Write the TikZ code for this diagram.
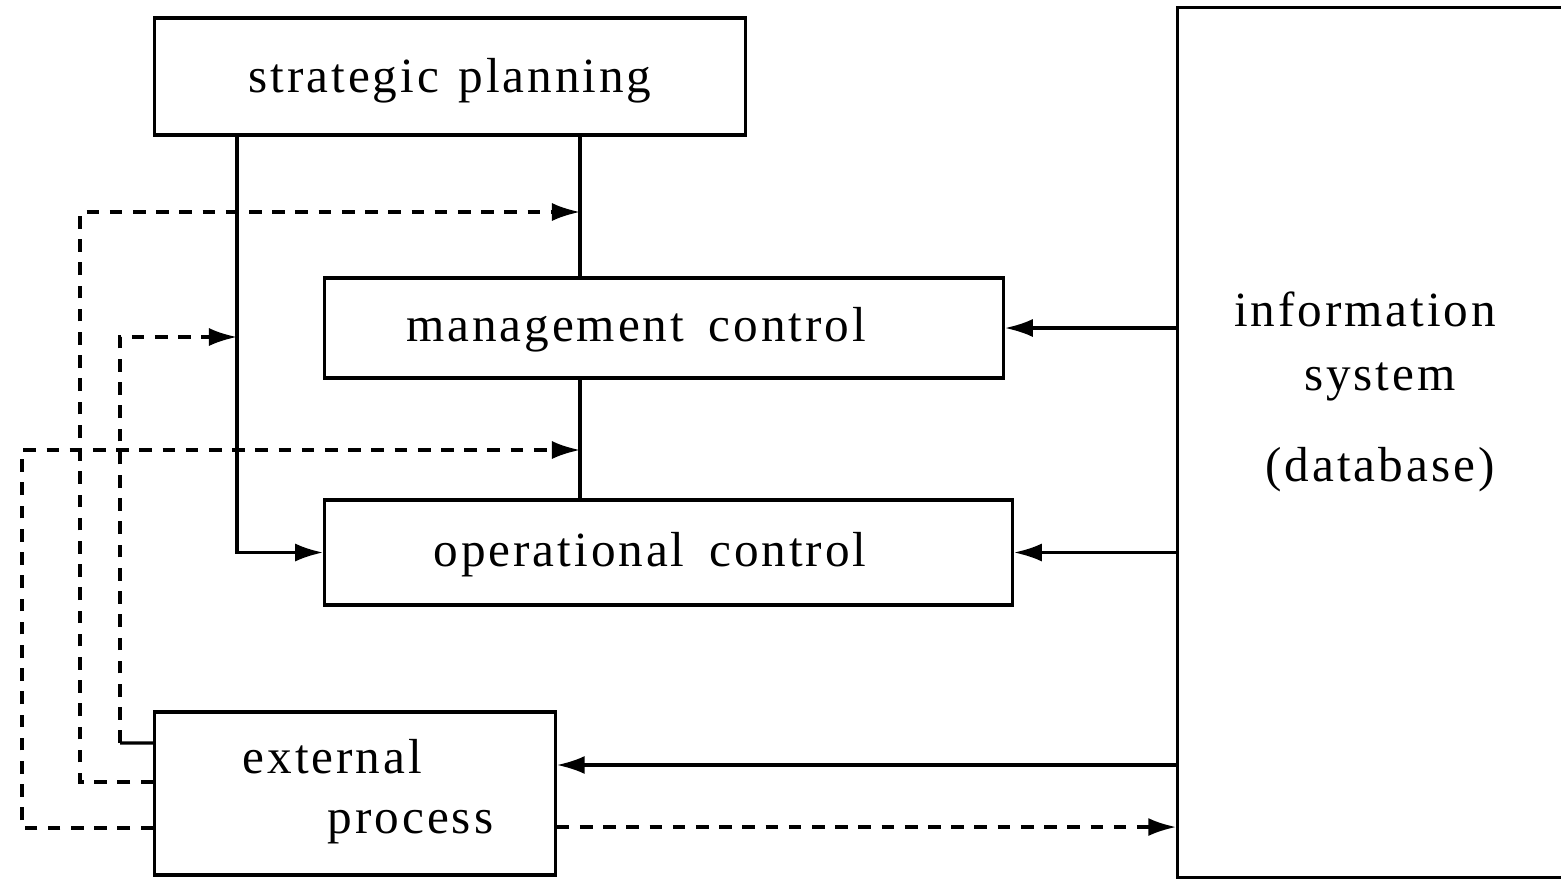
\documentclass[tikz,border=0pt]{standalone}
\usepackage{fontspec}
\setmainfont[LetterSpace=6]{Liberation Serif}
\usetikzlibrary{arrows.meta,positioning,calc}
\tikzset{%
    >={Latex[width=1.8mm,length=2.8mm]},
    % Specifications for style of nodes:
    box/.style = {
        rectangle, draw=black, line width=0.9pt,
        inner sep=0pt, align=center, fill=white
    },
    boxtext/.style = {font=\fontsize{14}{17}\selectfont, align=center},
    fb/.style = {dash pattern=on 3.6pt off 3pt},
}
\begin{document}
\begin{tikzpicture}[x=0.01cm, y=-0.01cm, line width=0.9pt]
    \useasboundingbox (0,0) rectangle (1561,881);
    \clip (0,0) rectangle (1561,881);
    \node[box, minimum width=5.9cm, minimum height=1.17cm] (sp) at (450,76.5) {};
    \node[box, minimum width=6.78cm, minimum height=1.0cm] (mc) at (664,328) {};
    \node[box, minimum width=6.87cm, minimum height=1.05cm] (oc) at (668.5,552.5) {};
    \node[box, minimum width=4.0cm, minimum height=1.63cm] (ext) at (355,793.5) {};
    \node[box, minimum width=5.22cm, minimum height=8.69cm] (info) at (1439,442.5) {};
    \node[boxtext] (sptext) at (450,81) {strategic\hspace{.4em}planning};
    \node[boxtext] (mctext) at (636,330) {management\hspace{.5em}control};
    \node[boxtext] (octext) at (650,555) {operational\hspace{.5em}control};
    \node[boxtext, align=left] (exttext) at (368,792) {external\\[0pt]\hspace*{0.85cm}process};
    \node[boxtext] (infotext) at (1365,392) {information\\[1pt]\hspace*{.3cm}system\\[9pt]\hspace*{.3cm}(database)};
    % junction points
    \coordinate (lx) at (237,0);
    \coordinate (cx) at (580,0);
    \coordinate (f1) at (80,212);
    \coordinate (f2) at (120,337);
    \coordinate (f3) at (22,450);
    \coordinate (b1) at (120,743);
    \coordinate (e1) at ([yshift=.115cm]ext.west);
    \coordinate (e4) at ([yshift=-.345cm]ext.west);
    \coordinate (e2) at ([yshift=.285cm]ext.east);
    \coordinate (e3) at ([yshift=-.335cm]ext.east);
    % planning lines
    \draw[->] (sp.south -| lx) |- (oc.west);
    \draw (sp.south -| cx) -- (mc.north -| cx);
    \draw (mc.south -| cx) -- (oc.north -| cx);
    % feedback from the external process
    \draw[fb,->] (e1) -| (f1) -- (f1 -| cx);
    \draw ([yshift=.505cm]ext.west) -- (b1);
    \draw[fb,->] (b1) -- (f2) -- (f2 -| lx);
    \draw[fb,->] (e4) -| (f3) -- (f3 -| cx);
    % information system
    \draw[->] (info.west |- mc.east) -- (mc.east);
    \draw[->] (info.west |- oc.east) -- (oc.east);
    \draw[->] (info.west |- e2) -- (e2);
    \draw[fb,->] (e3) -- (info.west |- e3);
\end{tikzpicture}
\end{document}
